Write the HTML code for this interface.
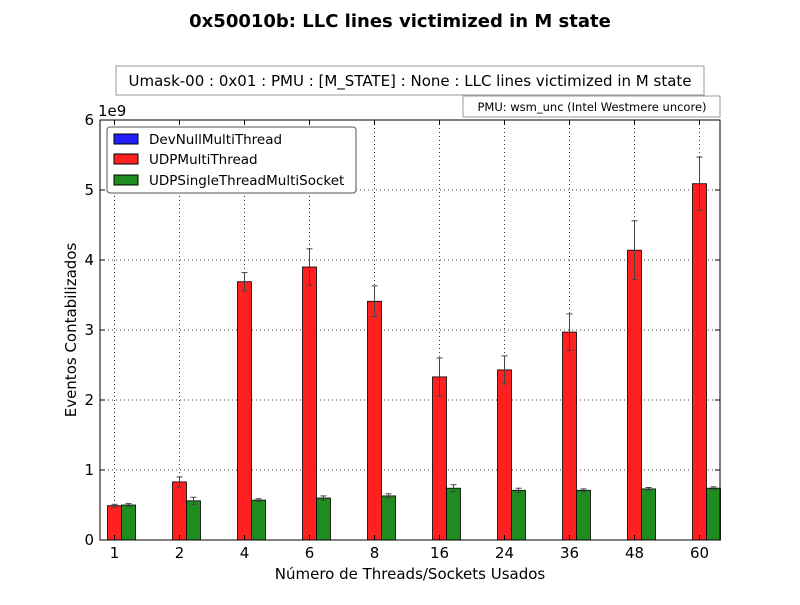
<!DOCTYPE html>
<html><head><meta charset="utf-8"><style>
body{margin:0;background:#fff;font-family:"Liberation Sans","DejaVu Sans",sans-serif}
svg text{font-family:"DejaVu Sans","Liberation Sans",sans-serif}
</style></head><body>
<svg id="c" width="800" height="600" xmlns="http://www.w3.org/2000/svg">
<rect width="800" height="600" fill="#fff"/>
<text x="400" y="27" text-anchor="middle" font-size="18" font-weight="bold">0x50010b: LLC lines victimized in M state</text>
<rect x="116" y="66" width="588" height="29" fill="#fff" stroke="#999"/>
<text x="410" y="86" text-anchor="middle" font-size="15">Umask-00 : 0x01 : PMU : [M_STATE] : None : LLC lines victimized in M state</text>
<rect x="463" y="96" width="257" height="21" fill="#fff" stroke="#999"/>
<text x="592" y="111" text-anchor="middle" font-size="11.5">PMU: wsm_unc (Intel Westmere uncore)</text>
<g id="grid"></g><g id="bars"></g><g id="axes"></g>
<text x="98" y="116" font-size="15">1e9</text>
<text x="76" y="330" text-anchor="middle" font-size="15" transform="rotate(-90 76 330)">Eventos Contabilizados</text>
<text x="410" y="579" text-anchor="middle" font-size="15">Número de Threads/Sockets Usados</text>
<g>
<rect x="107" y="127" width="249" height="66" rx="3" fill="#fff" stroke="#555"/>
<rect x="114" y="134" width="24" height="10" fill="#1f1fff" stroke="#000"/>
<text x="149" y="144" font-size="13.5">DevNullMultiThread</text>
<rect x="114" y="154" width="24" height="10" fill="#ff2020" stroke="#000"/>
<text x="149" y="164" font-size="13.5">UDPMultiThread</text>
<rect x="114" y="175" width="24" height="10" fill="#1e8c1e" stroke="#000"/>
<text x="149" y="185" font-size="13.5">UDPSingleThreadMultiSocket</text>
</g>
</svg>
<script>
const categories=["1","2","4","6","8","16","24","36","48","60"];
const devNull=[0,0,0,0,0,0,0,0,0,0];
const udpMulti=[0.49,0.83,3.69,3.9,3.41,2.33,2.43,2.97,4.14,5.09];
const udpMultiErr=[0.02,0.07,0.13,0.26,0.22,0.27,0.2,0.26,0.42,0.38];
const udpSingle=[0.5,0.56,0.57,0.6,0.63,0.74,0.71,0.71,0.73,0.74];
const udpSingleErr=[0.02,0.05,0.02,0.03,0.03,0.05,0.03,0.02,0.02,0.02];
const yTicks=[0,1,2,3,4,5,6];
const NS="http://www.w3.org/2000/svg";
const L=100,R=720,T=120,B=540,yMax=6;
const y=v=>B-v/yMax*(B-T);
const xc=i=>114.5+i*65;
const bw=14;
function mk(tag,attrs,parent){const e=document.createElementNS(NS,tag);for(const k in attrs)e.setAttribute(k,attrs[k]);parent.appendChild(e);return e;}
const grid=document.getElementById('grid'),bars=document.getElementById('bars'),axes=document.getElementById('axes');
yTicks.forEach(t=>{
 if(t>0&&t<yMax){const g=mk('line',{x1:L,x2:R,y1:y(t),y2:y(t),stroke:'#000','stroke-dasharray':'1,3','stroke-width':0.8},grid);
 
 }
 const tl=mk('text',{x:L-6,y:y(t)+5,'text-anchor':'end','font-size':15},axes);tl.textContent=t;
 
 
 mk('line',{x1:L,x2:L+5,y1:y(t),y2:y(t),stroke:'#000'},axes);
 mk('line',{x1:R,x2:R-5,y1:y(t),y2:y(t),stroke:'#000'},axes);
});
categories.forEach((c,i)=>{
 const x=xc(i);
 const g=mk('line',{x1:x,x2:x,y1:T,y2:B,stroke:'#000','stroke-dasharray':'1,3','stroke-width':0.8},grid);
 
 
 const series=[[devNull,null,'#1f1fff',-1,'bar-devnull'],[udpMulti,udpMultiErr,'#ff2020',0,'bar-udpmulti'],[udpSingle,udpSingleErr,'#1e8c1e',1,'bar-udpsingle']];
 series.forEach(([vals,errs,col,off,name])=>{
  const bx=x-bw/2+off*bw;
  if(bx<L)return;
  const r=mk('rect',{x:bx,y:y(vals[i]),width:bw,height:B-y(vals[i]),fill:col,stroke:'#000','stroke-width':0.8},bars);
  
  
  if(errs){const cx=bx+bw/2,lo=y(vals[i]-errs[i]),hi=y(vals[i]+errs[i]);
   mk('line',{x1:cx,x2:cx,y1:lo,y2:hi,stroke:'#444'},bars);
   mk('line',{x1:cx-3,x2:cx+3,y1:lo,y2:lo,stroke:'#444'},bars);
   mk('line',{x1:cx-3,x2:cx+3,y1:hi,y2:hi,stroke:'#444'},bars);}
 });
 const tl=mk('text',{x:x,y:B+18,'text-anchor':'middle','font-size':15},axes);tl.textContent=c;
 
 
 mk('line',{x1:x,x2:x,y1:B,y2:B-5,stroke:'#000'},axes);
 mk('line',{x1:x,x2:x,y1:T,y2:T+5,stroke:'#000'},axes);
});
const f=mk('rect',{x:L,y:T,width:R-L,height:B-T,fill:'none',stroke:'#000'},axes);


</script>
</body></html>
